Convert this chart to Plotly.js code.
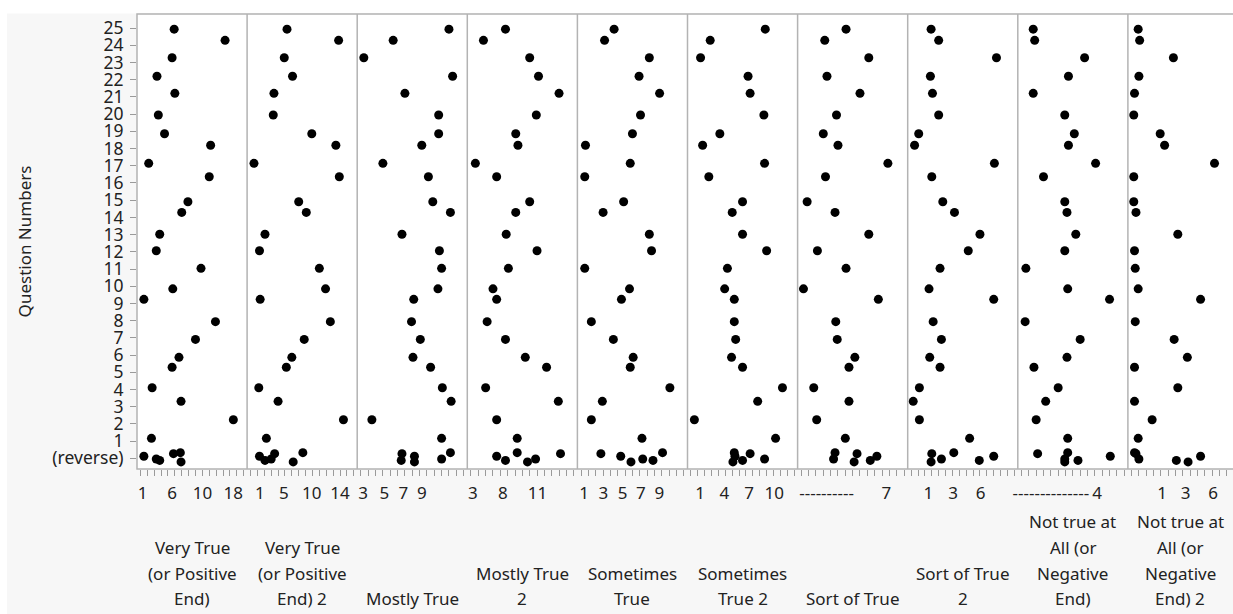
<!DOCTYPE html>
<html><head><meta charset="utf-8">
<script src="https://cdn.plot.ly/plotly-3.0.1.min.js"></script>
<style>html,body{margin:0;padding:0;background:#fff}</style>
</head><body><div id="chart" style="width:1233px;height:614px"></div>
<script>
// Y axis: question categories (index 0 = "(reverse)")
const yTickLabels = ["(reverse)","1","2","3","4","5","6","7","8","9","10","11","12","13","14","15","16","17","18","19","20","21","22","23","24","25"];

// Rows: questions 25..1 then six "(reverse)" rows; jittered position on the question axis
const rowY = [24.94, 24.29, 23.28, 22.20, 21.21, 19.95, 18.86, 18.19, 17.14, 16.36, 14.91, 14.29, 13.02,
  12.06, 11.04, 9.85, 9.24, 7.94, 6.91, 5.87, 5.29, 4.10, 3.31, 2.24, 1.16,
  0.33, 0.27, 0.12, -0.04, -0.12, -0.21];

// Panel names (as wrapped in the chart)
const panelNames = [
  "Very True\n(or Positive\nEnd)",
  "Very True\n(or Positive\nEnd) 2",
  "Mostly True",
  "Mostly True\n2",
  "Sometimes\nTrue",
  "Sometimes\nTrue 2",
  "Sort of True",
  "Sort of True\n2",
  "Not true at\nAll (or\nNegative\nEnd)",
  "Not true at\nAll (or\nNegative\nEnd) 2"
];

// Level position of each row in each panel (categorical level index)
const xVeryTrue      = [4.9, 12.3, 4.6, 2.4, 5.0, 2.6, 3.5, 10.2, 1.2, 10.0, 6.9, 6.0, 2.8, 2.3, 8.8, 4.7, 0.5, 10.9, 8.0, 5.6, 4.6, 1.7, 5.9, 13.5, 1.6, 5.8, 4.8, 0.5, 2.3, 2.8, 5.9];
const xVeryTrue2     = [5.3, 12.8, 4.9, 6.1, 3.4, 3.3, 8.9, 12.4, 0.5, 12.9, 7.0, 8.1, 2.1, 1.3, 10.0, 10.9, 1.4, 11.6, 7.8, 6.0, 5.2, 1.2, 4.0, 13.5, 2.3, 7.6, 3.5, 1.3, 3.0, 2.1, 6.2];
const xMostlyTrue    = [12.0, 4.4, 0.4, 12.5, 6.0, 10.6, 10.6, 8.3, 3.0, 9.2, 9.8, 12.2, 5.6, 10.7, 11.0, 10.5, 7.2, 6.9, 8.1, 7.1, 9.5, 11.1, 12.3, 1.5, 11.0, 12.2, 5.6, 7.3, 11.0, 5.5, 7.3];
const xMostlyTrue2   = [4.7, 1.7, 8.0, 9.2, 12.0, 8.9, 6.1, 6.4, 0.6, 3.5, 8.0, 6.1, 4.8, 9.0, 5.1, 3.0, 3.5, 2.2, 4.7, 7.4, 10.3, 2.0, 11.9, 3.5, 6.3, 6.3, 12.2, 3.5, 8.8, 4.7, 7.7];
const xSometimes     = [4.5, 3.2, 9.3, 7.9, 10.7, 8.1, 7.0, 0.6, 6.7, 0.5, 5.8, 3.0, 9.3, 9.6, 0.5, 6.6, 5.5, 1.4, 4.4, 7.1, 6.7, 12.1, 2.9, 1.4, 8.3, 11.1, 2.7, 5.4, 8.4, 9.8, 6.8];
const xSometimes2    = [10.8, 2.8, 1.4, 8.3, 8.6, 10.6, 4.2, 1.7, 10.7, 2.6, 7.5, 6.0, 7.5, 11.0, 5.3, 4.9, 6.3, 6.3, 6.5, 5.9, 7.5, 13.3, 9.7, 0.5, 12.3, 6.3, 8.6, 6.4, 10.7, 7.5, 6.1];
const xSortOf        = [6.1, 3.2, 9.2, 3.5, 8.0, 4.8, 3.0, 5.0, 11.8, 3.3, 0.8, 4.6, 9.2, 2.2, 6.1, 0.3, 10.5, 4.7, 4.9, 7.3, 6.5, 1.7, 6.5, 2.1, 6.0, 4.6, 7.6, 10.3, 4.4, 9.4, 7.2];
const xSortOf2       = [2.9, 4.0, 12.4, 2.8, 3.1, 4.0, 1.1, 0.5, 12.1, 3.0, 4.6, 6.3, 10.0, 8.3, 4.2, 2.6, 12.0, 3.2, 4.4, 2.7, 4.2, 1.2, 0.3, 1.2, 8.5, 6.2, 3.0, 12.0, 4.4, 9.9, 2.9];
const xNotTrue       = [1.6, 1.8, 8.6, 6.4, 1.6, 5.9, 7.2, 6.4, 10.1, 3.0, 5.9, 6.2, 7.4, 5.9, 0.6, 6.3, 12.0, 0.5, 8.0, 6.2, 1.7, 5.0, 3.3, 2.0, 6.3, 6.3, 2.2, 12.1, 5.9, 7.7, 5.9];
const xNotTrue2      = [0.9, 1.1, 5.7, 1.0, 0.4, 0.3, 3.9, 4.5, 11.3, 0.3, 0.3, 0.6, 6.3, 0.4, 0.5, 0.9, 9.4, 0.5, 5.8, 7.6, 0.4, 6.3, 0.4, 2.8, 0.9, 0.4, 0.6, 9.4, 1.0, 6.1, 7.7];

// Number of categorical levels on each panel axis
const levelCounts = [16, 16, 15, 15, 15, 16, 15, 16, 15, 15];

// Tick labels shown under each panel
const tickText1 = ["1","6","10","18"];          const tickPos1 = [0.3, 4.6, 9.0, 13.5];
const tickText2 = ["1","5","10","14"];          const tickPos2 = [1.35, 4.85, 8.9, 13.0];
const tickText3 = ["3","5","7","9"];            const tickPos3 = [0.3, 3.2, 5.8, 8.3];
const tickText4 = ["3","8","11"];               const tickPos4 = [0.25, 4.35, 9.05];
const tickText5 = ["1","3","5","7","9"];        const tickPos5 = [0.4, 3.05, 5.65, 8.15, 10.65];
const tickText6 = ["1","4","7","10"];           const tickPos6 = [1.35, 4.85, 8.45, 12.1];
const tickText7 = ["----------","7"];           const tickPos7 = [3.45, 11.6];
const tickText8 = ["1","3","6"];                const tickPos8 = [2.5, 6.1, 10.1];
const tickText9 = ["--------------","4"];       const tickPos9 = [4.0, 10.3];
const tickText10 = ["1","3","6"];               const tickPos10 = [4.15, 7.35, 11.1];

const panelX = [xVeryTrue, xVeryTrue2, xMostlyTrue, xMostlyTrue2, xSometimes, xSometimes2, xSortOf, xSortOf2, xNotTrue, xNotTrue2];
const panelTickText = [tickText1,tickText2,tickText3,tickText4,tickText5,tickText6,tickText7,tickText8,tickText9,tickText10];
const panelTickPos = [tickPos1,tickPos2,tickPos3,tickPos4,tickPos5,tickPos6,tickPos7,tickPos8,tickPos9,tickPos10];

const FONT = '"Noto Sans", "Open Sans", sans-serif';
const TXT = '#222222';
const W = 1233, H = 614, ML = 137, MR = 0, MT = 14, MB = 145;
const plotW = W - ML - MR, plotH = H - MT - MB;
const panelPx = 110.1;
const pf = panelPx / plotW;
const BORDER = '#b3b3b3';

const traces = [];
const layout = {
  width: W, height: H,
  margin: {l: ML, r: MR, t: MT, b: MB, pad: 0},
  paper_bgcolor: '#f7f7f7', plot_bgcolor: '#ffffff',
  showlegend: false,
  font: {family: FONT, size: 17, color: TXT},
  yaxis: {
    domain: [0, 1], anchor: 'x',
    range: [-0.62, 25.82],
    tickmode: 'array',
    tickvals: yTickLabels.map((_, i) => i),
    ticktext: yTickLabels,
    ticks: 'outside', ticklen: 6, tickwidth: 1, tickcolor: '#9a9a9a',
    tickfont: {family: FONT, size: 17.5, color: TXT},
    ticklabelstandoff: 3,
    showgrid: false, zeroline: false, showline: false, fixedrange: true,
    title: {text: 'Question Numbers', font: {family: FONT, size: 17, color: TXT}, standoff: 16}
  },
  shapes: [],
  annotations: []
};

// background strips (white outside the graph frame)
layout.shapes.push({type: 'rect', xref: 'paper', yref: 'paper', layer: 'below',
  x0: -0.3, x1: 1.2, y0: (plotH + 0.5) / plotH, y1: 1.2, fillcolor: '#ffffff', line: {width: 0}});
layout.shapes.push({type: 'rect', xref: 'paper', yref: 'paper', layer: 'below',
  x0: -0.3, x1: (7 - ML) / plotW, y0: -1, y1: 1.2, fillcolor: '#ffffff', line: {width: 0}});

panelX.forEach((xs, i) => {
  const ax = i === 0 ? 'x' : 'x' + (i + 1);
  const axKey = i === 0 ? 'xaxis' : 'xaxis' + (i + 1);
  const d0 = i * pf, d1 = Math.min((i + 1) * pf, 1);
  const s = panelPx / levelCounts[i];
  const visPx = (d1 - d0) * plotW;
  layout[axKey] = {
    domain: [d0, d1], anchor: 'y',
    range: [-0.5, -0.5 + visPx / s],
    tickmode: 'array', tickvals: panelTickPos[i], ticktext: panelTickText[i],
    ticks: '', ticklen: 0,
    ticklabelstandoff: 12,
    tickfont: {family: FONT, size: 17, color: TXT},
    minor: {tickmode: 'linear', tick0: 0, dtick: 1, ticks: 'outside', ticklen: 6, tickwidth: 1, tickcolor: '#9a9a9a', showgrid: false},
    showgrid: false, zeroline: false, showline: false, fixedrange: true
  };
  traces.push({
    type: 'scatter', mode: 'markers', xaxis: ax, yaxis: 'y',
    x: xs, y: rowY,
    marker: {size: 9, color: '#000000', line: {width: 0}},
    hoverinfo: 'skip'
  });
  // panel title lines (bottom aligned)
  const lines = panelNames[i].split('\n');
  lines.forEach((ln, j) => {
    const ypx = 599 - (lines.length - 1 - j) * 26;
    layout.annotations.push({
      xref: ax + ' domain', yref: 'paper', x: 0.5, y: (MT + plotH - ypx) / plotH,
      xanchor: 'center', yanchor: 'middle', showarrow: false,
      text: ln, font: {family: FONT, size: 17, color: TXT}
    });
  });
  if (i > 0) {
    layout.shapes.push({type: 'line', xref: 'paper', yref: 'paper', x0: d0, x1: d0, y0: 0, y1: 1,
      line: {color: BORDER, width: 1.5}});
  }
});
// outer frame
layout.shapes.push({type: 'rect', xref: 'paper', yref: 'paper', x0: 0, x1: 10 * pf, y0: 0, y1: 1,
  line: {color: BORDER, width: 1.5}, fillcolor: 'rgba(0,0,0,0)'});

Plotly.newPlot('chart', traces, layout, {displayModeBar: false, staticPlot: true});
</script>
</body></html>
